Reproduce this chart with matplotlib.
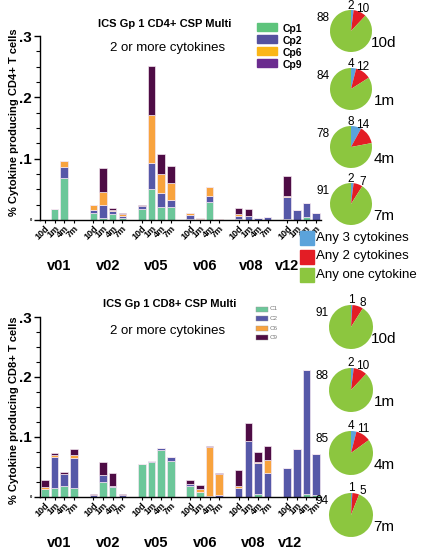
import matplotlib
matplotlib.use("Agg")
import matplotlib.pyplot as plt
import matplotlib.transforms as mtrans
import numpy as np
from matplotlib.patches import Rectangle

plt.rcParams['font.family'] = ['Liberation Sans', 'DejaVu Sans']

groups = ["v01", "v02", "v05", "v06", "v08", "v12"]
times = ["10d", "1m", "4m", "7m"]

# CD4+ (top) values per bar, order: v01 10d,1m,4m,7m, v02 ..., v12 ...
cd4_cp1 = [0, 0.018, 0.068, 0, 0.011, 0.003, 0.009, 0.004, 0.018, 0.051, 0.021, 0.021,
           0.001, 0, 0.030, 0, 0.001, 0, 0, 0, 0.002, 0, 0.005, 0]
cd4_cp2 = [0, 0, 0.018, 0, 0.006, 0.022, 0.006, 0.003, 0.005, 0.042, 0.023, 0.012,
           0.007, 0.001, 0.009, 0, 0.005, 0.006, 0.003, 0.005, 0.036, 0.017, 0.023, 0.012]
cd4_cp6 = [0, 0, 0.011, 0, 0.007, 0.020, 0.002, 0.002, 0, 0.078, 0.031, 0.028,
           0.003, 0.003, 0.014, 0.002, 0.004, 0.001, 0, 0, 0.001, 0, 0, 0]
cd4_cp9 = [0, 0, 0, 0, 0.001, 0.040, 0.002, 0.003, 0.001, 0.080, 0.032, 0.027,
           0.001, 0, 0, 0, 0.009, 0.011, 0, 0, 0.032, 0, 0, 0]

# CD8+ (bottom)
cd8_c1 = [0.012, 0.015, 0.017, 0.014, 0, 0.024, 0.016, 0, 0.055, 0.057, 0.077, 0.059,
          0.017, 0.007, 0, 0, 0, 0, 0.005, 0, 0, 0, 0.004, 0.003]
cd8_c2 = [0.001, 0.051, 0.020, 0.051, 0.002, 0.012, 0.002, 0.002, 0, 0.003, 0.004, 0.007,
          0.004, 0.001, 0.001, 0.002, 0.015, 0.092, 0.051, 0.040, 0.047, 0.079, 0.207, 0.068]
cd8_c6 = [0.003, 0.004, 0.001, 0.004, 0, 0, 0, 0, 0, 0, 0, 0,
          0, 0.005, 0.081, 0.036, 0.003, 0, 0.002, 0.021, 0, 0, 0, 0]
cd8_c9 = [0.012, 0.002, 0.003, 0.010, 0.002, 0.022, 0.022, 0.002, 0, 0, 0, 0,
          0.007, 0.006, 0.002, 0.002, 0.026, 0.031, 0.017, 0.023, 0, 0, 0, 0]

# Pie data: [any 3, any 2, any one]
pie_labels = ["10d", "1m", "4m", "7m"]
cd4_pies = [[2, 10, 88], [4, 12, 84], [8, 14, 78], [2, 7, 91]]
cd8_pies = [[1, 8, 91], [2, 10, 88], [4, 11, 85], [1, 5, 94]]

c_green = "#6cc79a"
c_blue = "#5658a8"
c_orange = "#f8a33e"
c_plum = "#4e0c45"
pie_cols = ["#5ba3db", "#e31d25", "#8cc63f"]

W, H = 430, 549
fig = plt.figure(figsize=(W / 100, H / 100), dpi=100)


def fx(x):
    return x / W


def fy(y):
    return 1 - y / H


def ftext(x, y, s, **kw):
    fig.text(fx(x), fy(y), s, **kw)


# x positions of the bars: 4 per group, one empty slot between groups
xpos = []
for g in range(len(groups)):
    for t in range(4):
        xpos.append(g * 5 + t)
xpos = np.array(xpos)


def bar_panel(top, bottom, series, cols, ylabel, ylab_y):
    ax = fig.add_axes([fx(40), fy(bottom), fx(321) - fx(40), fy(top) - fy(bottom)])
    base = np.zeros(len(xpos))
    for vals, col in zip(series, cols):
        v = np.array(vals)
        ax.bar(xpos, v, bottom=base, width=0.78, color=col, edgecolor="#f3e6f0", linewidth=0.5)
        base = base + v
    ax.set_xlim(-0.5, 28.5)
    ax.set_ylim(0, 0.3)
    for s in ["top", "right"]:
        ax.spines[s].set_visible(False)
    ax.spines["left"].set_linewidth(1.0)
    ax.spines["bottom"].set_linewidth(1.0)
    ax.set_yticks([0, 0.1, 0.2, 0.3])
    ax.set_yticklabels(["0", ".1", ".2", ".3"], fontsize=11, fontweight="bold")
    ax.get_yticklabels()[0].set_fontsize(3)
    ax.set_yticks(np.arange(0, 0.301, 0.025), minor=True)
    ax.tick_params(axis="y", which="major", length=4, width=1, pad=2)
    ax.tick_params(axis="y", which="minor", length=3, width=0.8)
    ax.set_xticks(xpos)
    ax.set_xticklabels(times * len(groups), rotation=45, ha="right", va="top",
                       fontsize=6.5, fontweight="bold", rotation_mode="anchor")
    ax.tick_params(axis="x", length=2, width=0.8, pad=1)
    ftext(14, ylab_y, ylabel, rotation=90, ha="center", va="center",
          fontsize=8, fontweight="bold")
    return ax


ax1 = bar_panel(36, 220, [cd4_cp1, cd4_cp2, cd4_cp6, cd4_cp9],
                [c_green, c_blue, c_orange, c_plum], "% Cytokine producing CD4+ T cells", 122)
ax2 = bar_panel(317, 496.5, [cd8_c1, cd8_c2, cd8_c6, cd8_c9],
                [c_green, c_blue, c_orange, c_plum], "% Cytokine producing CD8+ T cells", 410)

# group labels
gx_top = [1.5, 6.5, 11.5, 16.5, 21.3, 25.0]
gx_bot = [1.5, 6.5, 11.5, 16.5, 21.5, 25.3]
tr1 = mtrans.blended_transform_factory(ax1.transData, fig.transFigure)
tr2 = mtrans.blended_transform_factory(ax2.transData, fig.transFigure)
for g, xg in zip(groups, gx_top):
    ax1.text(xg, fy(266), g, transform=tr1, ha="center", va="center",
             fontsize=10.5, fontweight="bold")
for g, xg in zip(groups, gx_bot):
    ax2.text(xg, fy(543), g, transform=tr2, ha="center", va="center",
             fontsize=10.5, fontweight="bold")

# titles
ftext(165, 24, "ICS Gp 1 CD4+ CSP Multi", ha="center", va="center", fontsize=8, fontweight="bold")
ftext(168, 48, "2 or more cytokines", ha="center", va="center", fontsize=9.5)
ftext(170, 304, "ICS Gp 1 CD8+ CSP Multi", ha="center", va="center", fontsize=8, fontweight="bold")
ftext(168, 331, "2 or more cytokines", ha="center", va="center", fontsize=9.5)

# top legend
leg_cols_top = ["#5ec47c", "#55519e", "#fbb617", "#6b2c8f"]
for i, (lab, col) in enumerate(zip(["Cp1", "Cp2", "Cp6", "Cp9"], leg_cols_top)):
    y = 27 + i * 12
    fig.patches.append(Rectangle((fx(257), fy(y + 3.5)), fx(20), fy(0) - fy(7),
                                 transform=fig.transFigure, color=col))
    ftext(283, y + 2, lab, ha="left", va="center", fontsize=7.5, fontweight="bold")

# bottom legend
for i, (lab, col) in enumerate(zip(["C1", "C2", "C6", "C9"], [c_green, c_blue, c_orange, c_plum])):
    y = 309 + i * 9.5
    fig.patches.append(Rectangle((fx(256), fy(y + 2.5)), fx(12), fy(0) - fy(5),
                                 transform=fig.transFigure, facecolor=col,
                                 edgecolor="#999999", linewidth=0.3))
    ftext(270, y, lab, ha="left", va="center", fontsize=4.5, color="#777777")


def pie_at(cx, cy, r, vals, num_offsets, lab):
    pax = fig.add_axes([fx(cx - r), fy(cy + r), fx(2 * r), fy(0) - fy(2 * r)])
    pax.pie(vals, colors=pie_cols, startangle=90, counterclock=False, radius=1,
            wedgeprops=dict(linewidth=0))
    pax.set_xlim(-1, 1)
    pax.set_ylim(-1, 1)
    pax.axis("off")
    for v, (dx, dy) in zip(vals, num_offsets):
        ftext(cx + dx, cy + dy, str(v), ha="center", va="center", fontsize=8.5)
    ftext(cx + 33, cy + 12, lab, ha="center", va="center", fontsize=11)


top_centers = [31, 89, 147, 204]
bot_centers = [327, 390, 453, 515]
for cy, vals, lab in zip(top_centers, cd4_pies, pie_labels):
    pie_at(351, cy, 21, vals, [(0, -25), (12, -22), (-28, -13)], lab)
for cy, vals, lab in zip(bot_centers, cd8_pies, pie_labels):
    pie_at(351, cy, 22, vals, [(0, -27), (12, -24), (-29, -14)], lab)

# pie legend
for i, (lab, col) in enumerate(zip(["Any 3 cytokines", "Any 2 cytokines", "Any one cytokine"], pie_cols)):
    y = 238 + i * 18.5
    fig.patches.append(Rectangle((fx(300), fy(y + 7)), fx(14), fy(0) - fy(14),
                                 transform=fig.transFigure, color=col))
    ftext(316, y, lab, ha="left", va="center", fontsize=9.5)

fig.savefig("out.png", dpi=100)
